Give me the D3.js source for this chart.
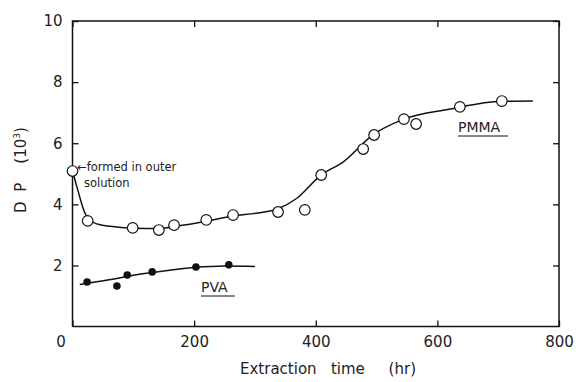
<!DOCTYPE html>
<html><head><meta charset="utf-8">
<script src="https://cdn.jsdelivr.net/npm/d3@7"></script>
<style>
html,body{margin:0;padding:0;background:#fff;}
svg{display:block;}
text{font-family:"DejaVu Sans",sans-serif;fill:#222;}
</style></head>
<body>
<svg id="chart" width="578" height="382" viewBox="0 0 578 382"></svg>
<script>
// ---- data ----
const xTicks = [0, 200, 400, 600, 800];
const yTicks = [2, 4, 6, 8, 10];
const pmmaTime = [0, 25, 99, 142, 167, 220, 264, 338, 382, 409, 478, 496, 545, 565, 637, 706];
const pmmaDP   = [5.09, 3.46, 3.23, 3.16, 3.32, 3.49, 3.65, 3.75, 3.82, 4.96, 5.81, 6.27, 6.79, 6.63, 7.19, 7.38];
const pmmaFitTime = [0, 9, 17, 25, 40, 62, 98, 143, 169, 220, 263, 305, 337, 369, 408, 446, 493, 545, 619, 706, 757];
const pmmaFitDP   = [5.09, 4.45, 3.9, 3.55, 3.36, 3.28, 3.22, 3.21, 3.28, 3.45, 3.62, 3.72, 3.85, 4.2, 4.95, 5.4, 6.26, 6.79, 7.11, 7.37, 7.38];
const pvaTime = [24, 73, 90, 131, 203, 257];
const pvaDP   = [1.46, 1.33, 1.69, 1.79, 1.95, 2.02];
const pvaFitTime = [12, 60, 100, 150, 200, 250, 300];
const pvaFitDP   = [1.38, 1.53, 1.68, 1.82, 1.93, 1.98, 1.97];

// ---- layout ----
const svg = d3.select("#chart");
const L = 72.5, R = 559, T = 21, B = 326.6;
const x = d3.scaleLinear().domain([0, 800]).range([L, R]);
const y = d3.scaleLinear().domain([0, 10]).range([B, T]);
const ink = "#111";

// plot frame as a closed polyline through the domain corners
const corners = [[0, 0], [800, 0], [800, 10], [0, 10], [0, 0]];
svg.append("path").datum(corners)
  .attr("d", d3.line().x(d => x(d[0])).y(d => y(d[1])))
  .attr("fill", "none").attr("stroke", ink).attr("stroke-width", 1.5)
  .attr("stroke-linejoin", "miter");

// axes with inward ticks
const fs = "15px";
function styleAxis(g) {
  g.select(".domain").remove();
  g.selectAll(".tick line").attr("stroke", ink).attr("stroke-width", 1.3);
}
const gx = svg.append("g").attr("transform", `translate(0,${B})`)
  .call(d3.axisBottom(x).tickValues(xTicks).tickSizeInner(-6).tickSizeOuter(0).tickPadding(12).tickFormat(d3.format("d")))
  .call(styleAxis);
gx.selectAll("text").attr("font-size", fs).attr("font-family", "DejaVu Sans").attr("fill", "#222")
  .attr("dy", "0.55em")
  .attr("dx", d => d === 0 ? -12 : 0);

svg.append("g").attr("transform", `translate(0,${T})`)
  .call(d3.axisTop(x).tickValues(xTicks).tickSizeInner(-6).tickSizeOuter(0).tickFormat(""))
  .call(styleAxis);

const gy = svg.append("g").attr("transform", `translate(${L},0)`)
  .call(d3.axisLeft(y).tickValues(yTicks).tickSizeInner(-6).tickSizeOuter(0).tickPadding(10).tickFormat(d3.format("d")))
  .call(styleAxis);
gy.selectAll("text").attr("font-size", fs).attr("font-family", "DejaVu Sans").attr("fill", "#222");

svg.append("g").attr("transform", `translate(${R},0)`)
  .call(d3.axisRight(y).tickValues(yTicks).tickSizeInner(-6).tickSizeOuter(0).tickFormat(""))
  .call(styleAxis);

// axis titles
svg.append("text").attr("x", 328).attr("y", 374).attr("text-anchor", "middle")
  .attr("font-size", "15px").style("white-space", "pre")
  .text("Extraction   time     (hr)");
svg.append("text").attr("transform", "translate(26,170) rotate(-90)").attr("text-anchor", "middle")
  .attr("font-size", "15px").style("white-space", "pre")
  .html("D  P    (10<tspan dy='-6' font-size='9px'>3</tspan><tspan dy='6'>)</tspan>");

// fitted curves
const line = d3.line().x(d => x(d[0])).y(d => y(d[1])).curve(d3.curveMonotoneX);
svg.append("path").datum(d3.zip(pmmaFitTime, pmmaFitDP)).attr("d", line)
  .attr("fill", "none").attr("stroke", ink).attr("stroke-width", 1.5);
svg.append("path").datum(d3.zip(pvaFitTime, pvaFitDP)).attr("d", line)
  .attr("fill", "none").attr("stroke", ink).attr("stroke-width", 1.5);

// points
svg.append("g").selectAll("circle").data(d3.zip(pmmaTime, pmmaDP)).join("circle")
  .attr("cx", d => x(d[0])).attr("cy", d => y(d[1])).attr("r", 5.3)
  .attr("fill", "#fff").attr("stroke", ink).attr("stroke-width", 1.2);
svg.append("g").selectAll("circle").data(d3.zip(pvaTime, pvaDP)).join("circle")
  .attr("cx", d => x(d[0])).attr("cy", d => y(d[1])).attr("r", 3.8)
  .attr("fill", ink);

// labels
svg.append("text").attr("x", 77).attr("y", 171).attr("font-size", "11.5px").text("←formed in outer");
svg.append("text").attr("x", 84).attr("y", 187).attr("font-size", "11.5px").text("solution");

svg.append("text").attr("x", 458).attr("y", 132).attr("font-size", "14px").text("PMMA");
svg.append("line").attr("x1", 458).attr("x2", 508).attr("y1", 136).attr("y2", 136).attr("stroke", ink).attr("stroke-width", 1);
svg.append("text").attr("x", 201).attr("y", 292).attr("font-size", "14px").text("PVA");
svg.append("line").attr("x1", 201).attr("x2", 235).attr("y1", 296).attr("y2", 296).attr("stroke", ink).attr("stroke-width", 1);
</script>
</body></html>
